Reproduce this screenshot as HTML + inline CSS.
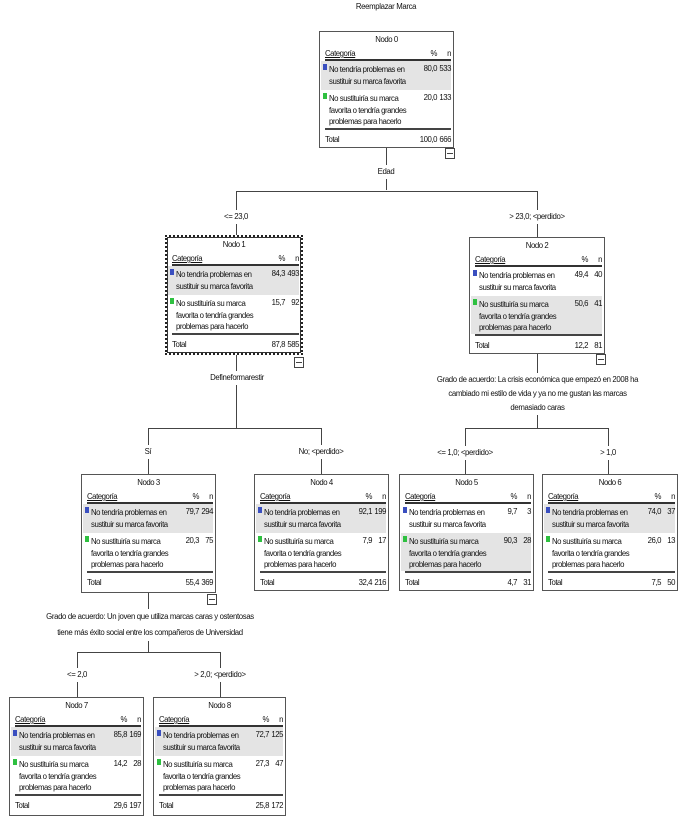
<!DOCTYPE html>
<html><head><meta charset="utf-8"><style>
body{margin:0;width:688px;height:823px;background:#fff;position:relative;overflow:hidden;font-family:"Liberation Sans",sans-serif;color:#111}
.n{position:absolute;border:1px solid #555;background:#fff;height:117px;font-size:7.8px;letter-spacing:-0.45px;box-sizing:border-box}
.t{position:absolute;top:3px;left:0;right:0;text-align:center}
.h{position:absolute;top:15px;left:5px;right:2px;height:12px;border-bottom:2px solid #333}
.h span{position:absolute;left:0;top:2px;text-decoration:underline}
.h b,.r b,.tot b{position:absolute;right:14px;font-weight:normal}
.h i,.r i,.tot i{position:absolute;right:0;font-style:normal}
.h b,.h i{top:2px}
.r{position:absolute;left:1px;right:2px}
.r1{top:29px;height:29px}.r2{top:58px;height:38px}
.g{background:#e4e4e4}
.r .c{position:absolute;left:8px;top:3px;line-height:11.5px}
.r b,.r i{top:3px}
.r s{position:absolute;left:2px;top:3px;width:4px;height:6px}
.bl{background:#3a4fc0}.gr{background:#2ec040}
.tot{position:absolute;top:96px;left:5px;right:2px;height:18px;border-top:2px solid #444}
.tot span{position:absolute;left:0;top:5px}.tot b,.tot i{top:5px}
.l{position:absolute;background:#444}
.lb{position:absolute;font-size:7.8px;letter-spacing:-0.35px;text-align:center;line-height:14px;background:#fff}
.sq{position:absolute;width:8px;height:9px;border:1px solid #444;background:#fff}
.sq:after{content:"";position:absolute;left:1px;right:1px;top:4px;height:1px;background:#444}
</style></head><body>
<div class="lb" style="left:336px;top:0;width:100px">Reemplazar Marca</div>

<div class="l" style="left:386px;top:148px;width:1px;height:42px"></div>
<div class="l" style="left:236px;top:191px;width:302px;height:1px"></div>
<div class="l" style="left:236px;top:191px;width:1px;height:44px"></div>
<div class="l" style="left:537px;top:191px;width:1px;height:46px"></div>
<div class="l" style="left:236px;top:355px;width:1px;height:73px"></div>
<div class="l" style="left:148px;top:428px;width:174px;height:1px"></div>
<div class="l" style="left:148px;top:428px;width:1px;height:46px"></div>
<div class="l" style="left:321px;top:428px;width:1px;height:46px"></div>
<div class="l" style="left:537px;top:353px;width:1px;height:75px"></div>
<div class="l" style="left:465px;top:428px;width:144px;height:1px"></div>
<div class="l" style="left:465px;top:428px;width:1px;height:46px"></div>
<div class="l" style="left:608px;top:428px;width:1px;height:46px"></div>
<div class="l" style="left:148px;top:593px;width:1px;height:59px"></div>
<div class="l" style="left:77px;top:652px;width:144px;height:1px"></div>
<div class="l" style="left:77px;top:652px;width:1px;height:45px"></div>
<div class="l" style="left:220px;top:652px;width:1px;height:45px"></div>

<div class="lb" style="left:366px;top:165px;width:40px">Edad</div>
<div class="lb" style="left:206px;top:210px;width:60px">&lt;= 23,0</div>
<div class="lb" style="left:497px;top:210px;width:80px">&gt; 23,0; &lt;perdido&gt;</div>
<div class="lb" style="left:201px;top:371px;width:72px">Defineformarestir</div>
<div class="lb" style="left:425px;top:373px;width:225px;line-height:14px">Grado de acuerdo: La crisis económica que empezó en 2008 ha<br>cambiado mi estilo de vida y ya no me gustan las marcas<br>demasiado caras</div>
<div class="lb" style="left:138px;top:445px;width:20px">Sí</div>
<div class="lb" style="left:286px;top:445px;width:70px">No; &lt;perdido&gt;</div>
<div class="lb" style="left:425px;top:446px;width:80px">&lt;= 1,0; &lt;perdido&gt;</div>
<div class="lb" style="left:593px;top:446px;width:30px">&gt; 1,0</div>
<div class="lb" style="left:15px;top:609px;width:270px;line-height:16px">Grado de acuerdo: Un joven que utiliza marcas caras y ostentosas<br>tiene más éxito social entre los compañeros de Universidad</div>
<div class="lb" style="left:57px;top:668px;width:40px">&lt;= 2,0</div>
<div class="lb" style="left:180px;top:668px;width:80px">&gt; 2,0; &lt;perdido&gt;</div>

<div class="n" style="left:319px;top:31px;width:135px">
<div class="t">Nodo 0</div><div class="h"><span>Categoría</span><b>%</b><i>n</i></div>
<div class="r r1 g"><s class="bl"></s><div class="c">No tendría problemas en<br>sustituir su marca favorita</div><b>80,0</b><i>533</i></div>
<div class="r r2"><s class="gr"></s><div class="c">No sustituiría su marca<br>favorita o tendría grandes<br>problemas para hacerlo</div><b>20,0</b><i>133</i></div>
<div class="tot"><span>Total</span><b>100,0</b><i>666</i></div></div>
<div class="sq" style="left:445px;top:148px"></div>

<div class="n" style="left:165px;top:235px;width:138px;height:120px;border:2px dotted #222;outline:1px solid #333;outline-offset:-3px">
<div class="t">Nodo 1</div><div class="h"><span>Categoría</span><b>%</b><i>n</i></div>
<div class="r r1 g"><s class="bl"></s><div class="c">No tendría problemas en<br>sustituir su marca favorita</div><b>84,3</b><i>493</i></div>
<div class="r r2"><s class="gr"></s><div class="c">No sustituiría su marca<br>favorita o tendría grandes<br>problemas para hacerlo</div><b>15,7</b><i>92</i></div>
<div class="tot"><span>Total</span><b>87,8</b><i>585</i></div></div>
<div class="sq" style="left:294px;top:357px"></div>

<div class="n" style="left:469px;top:237px;width:136px">
<div class="t">Nodo 2</div><div class="h"><span>Categoría</span><b>%</b><i>n</i></div>
<div class="r r1"><s class="bl"></s><div class="c">No tendría problemas en<br>sustituir su marca favorita</div><b>49,4</b><i>40</i></div>
<div class="r r2 g"><s class="gr"></s><div class="c">No sustituiría su marca<br>favorita o tendría grandes<br>problemas para hacerlo</div><b>50,6</b><i>41</i></div>
<div class="tot"><span>Total</span><b>12,2</b><i>81</i></div></div>
<div class="sq" style="left:596px;top:354px"></div>

<div class="n" style="left:81px;top:474px;width:135px;height:119px">
<div class="t">Nodo 3</div><div class="h"><span>Categoría</span><b>%</b><i>n</i></div>
<div class="r r1 g"><s class="bl"></s><div class="c">No tendría problemas en<br>sustituir su marca favorita</div><b>79,7</b><i>294</i></div>
<div class="r r2"><s class="gr"></s><div class="c">No sustituiría su marca<br>favorita o tendría grandes<br>problemas para hacerlo</div><b>20,3</b><i>75</i></div>
<div class="tot"><span>Total</span><b>55,4</b><i>369</i></div></div>
<div class="sq" style="left:207px;top:594px"></div>

<div class="n" style="left:254px;top:474px;width:135px">
<div class="t">Nodo 4</div><div class="h"><span>Categoría</span><b>%</b><i>n</i></div>
<div class="r r1 g"><s class="bl"></s><div class="c">No tendría problemas en<br>sustituir su marca favorita</div><b>92,1</b><i>199</i></div>
<div class="r r2"><s class="gr"></s><div class="c">No sustituiría su marca<br>favorita o tendría grandes<br>problemas para hacerlo</div><b>7,9</b><i>17</i></div>
<div class="tot"><span>Total</span><b>32,4</b><i>216</i></div></div>

<div class="n" style="left:399px;top:474px;width:135px">
<div class="t">Nodo 5</div><div class="h"><span>Categoría</span><b>%</b><i>n</i></div>
<div class="r r1"><s class="bl"></s><div class="c">No tendría problemas en<br>sustituir su marca favorita</div><b>9,7</b><i>3</i></div>
<div class="r r2 g"><s class="gr"></s><div class="c">No sustituiría su marca<br>favorita o tendría grandes<br>problemas para hacerlo</div><b>90,3</b><i>28</i></div>
<div class="tot"><span>Total</span><b>4,7</b><i>31</i></div></div>

<div class="n" style="left:542px;top:474px;width:136px">
<div class="t">Nodo 6</div><div class="h"><span>Categoría</span><b>%</b><i>n</i></div>
<div class="r r1 g"><s class="bl"></s><div class="c">No tendría problemas en<br>sustituir su marca favorita</div><b>74,0</b><i>37</i></div>
<div class="r r2"><s class="gr"></s><div class="c">No sustituiría su marca<br>favorita o tendría grandes<br>problemas para hacerlo</div><b>26,0</b><i>13</i></div>
<div class="tot"><span>Total</span><b>7,5</b><i>50</i></div></div>

<div class="n" style="left:9px;top:697px;width:135px;height:119px">
<div class="t">Nodo 7</div><div class="h"><span>Categoría</span><b>%</b><i>n</i></div>
<div class="r r1 g"><s class="bl"></s><div class="c">No tendría problemas en<br>sustituir su marca favorita</div><b>85,8</b><i>169</i></div>
<div class="r r2"><s class="gr"></s><div class="c">No sustituiría su marca<br>favorita o tendría grandes<br>problemas para hacerlo</div><b>14,2</b><i>28</i></div>
<div class="tot"><span>Total</span><b>29,6</b><i>197</i></div></div>

<div class="n" style="left:153px;top:697px;width:133px;height:119px">
<div class="t">Nodo 8</div><div class="h"><span>Categoría</span><b>%</b><i>n</i></div>
<div class="r r1 g"><s class="bl"></s><div class="c">No tendría problemas en<br>sustituir su marca favorita</div><b>72,7</b><i>125</i></div>
<div class="r r2"><s class="gr"></s><div class="c">No sustituiría su marca<br>favorita o tendría grandes<br>problemas para hacerlo</div><b>27,3</b><i>47</i></div>
<div class="tot"><span>Total</span><b>25,8</b><i>172</i></div></div>
</body></html>
